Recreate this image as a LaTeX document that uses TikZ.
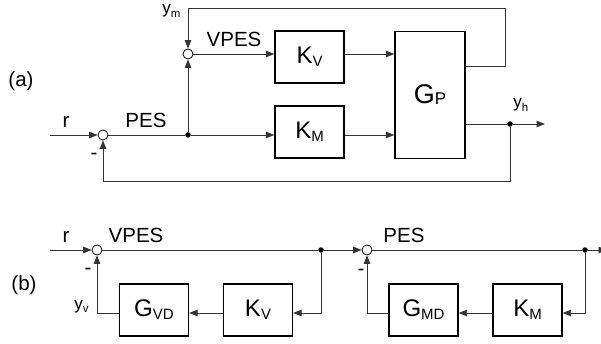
\documentclass[tikz,border=0pt]{standalone}
\usepackage{fontspec}
\setmainfont{Liberation Sans}
\usetikzlibrary{arrows.meta}
\newcommand{\boxsub}[1]{\raisebox{-3pt}{\fontsize{15}{15}\selectfont #1}}
\newcommand{\labsub}[1]{\raisebox{-3.5pt}{\fontsize{11.5}{11.5}\selectfont #1}}
\begin{document}
\begin{tikzpicture}[x=1pt,y=-1pt,
  line width=0.9pt,
  conn/.style={draw=black!80},
  arr/.style={conn,-{Triangle[length=8.5pt,width=6.5pt]}},
  blk/.style={draw=black,line width=1.3pt,minimum width=69pt,minimum height=52pt,inner sep=0pt,font=\fontsize{24}{24}\selectfont},
  sumj/.style={circle,draw=black,line width=0.8pt,minimum size=10pt,inner sep=0pt,fill=white},
  dotj/.style={circle,fill=black,minimum size=5.5pt,inner sep=0pt},
  lab/.style={inner sep=0pt,font=\fontsize{20.5}{20.5}\selectfont},
  ylab/.style={inner sep=0pt,font=\fontsize{17}{17}\selectfont,anchor=base west}
]
\useasboundingbox (0,0) rectangle (601,344);

% ---------- (a) ----------
\coordinate (rin) at (50,135);
\node[sumj] (s1) at (103,135) {};
\node[dotj] (d1) at (188,135) {};
\node[sumj] (s2) at (188,54) {};
\node[blk] (kv) at (309.5,57) {K\boxsub{V}};
\node[blk] (km) at (309.5,132) {K\boxsub{M}};
\node[blk,minimum width=70pt,minimum height=126.5pt,font=\fontsize{27}{27}\selectfont] (gp) at (430,95) {G\raisebox{-1pt}{\fontsize{17}{17}\selectfont P}};
\node[dotj] (d2) at (510,124) {};
\coordinate (yout) at (545,124);
\coordinate (ymc) at (505,8);

\draw[arr] (rin) -- (s1);
\draw[conn] (s1) -- (d1);
\draw[arr] (d1) -- (s2);
\draw[arr] (d1) -- (d1 -| km.west);
\draw[arr] (s2) -- (s2 -| kv.west);
\draw[arr] (kv.east |- s2) -- (gp.west |- s2);
\draw[arr] (km.east |- d1) -- (gp.west |- d1);
\draw[conn] (gp.east |- d2) -- (d2);
\draw[arr] (d2) -- (yout);
\draw[arr] (d2) -- (d2 |- 0,181) -| (s1);
\draw[arr] (gp.east |- 0,66) -| (ymc) -| (s2);

\node[lab,anchor=base] (ra) at (66,128) {r};
\node[lab,anchor=base] (pesa) at (146,128) {PES};
\node[lab,anchor=base] (vpesa) at (234,47) {VPES};
\node[ylab] (ym) at (162,14) {y\labsub{m}};
\node[ylab] (yh) at (513,108) {y\labsub{h}};
\node[lab] (ma) at (94,156) {-};
\node[lab] (la) at (21,81) {(a)};

% ---------- (b) ----------
\coordinate (rin2) at (50,250);
\node[sumj] (s3) at (97,250) {};
\node[dotj] (d3) at (321,250) {};
\node[sumj] (s4) at (367,250) {};
\node[dotj] (d4) at (585,250) {};
\coordinate (out2) at (607,250);
\node[blk] (gvd) at (154,310) {G\boxsub{VD}};
\node[blk] (kv2) at (258,310) {K\boxsub{V}};
\node[blk] (gmd) at (423.5,310) {G\boxsub{MD}};
\node[blk] (km2) at (527.5,310) {K\boxsub{M}};

\draw[arr] (rin2) -- (s3);
\draw[conn] (s3) -- (d3);
\draw[arr] (d3) -- (s4);
\draw[conn] (s4) -- (d4);
\draw[arr] (d4) -- (out2);
\draw[arr] (d3) |- (kv2.east |- 0,313);
\draw[arr] (kv2.west |- 0,313) -- (gvd.east |- 0,313);
\draw[arr] (gvd.west |- 0,313) -| (s3);
\draw[arr] (d4) |- (km2.east |- 0,313);
\draw[arr] (km2.west |- 0,313) -- (gmd.east |- 0,313);
\draw[arr] (gmd.west |- 0,313) -| (s4);

\node[lab,anchor=base] (rb) at (66,243) {r};
\node[lab,anchor=base] (vpesb) at (136,243) {VPES};
\node[lab,anchor=base] (pesb) at (404,243) {PES};
\node[ylab] (yv) at (74,309) {y\labsub{v}};
\node[lab] (mb1) at (88,271) {-};
\node[lab] (mb2) at (361,272) {-};
\node[lab] (lb) at (24,285) {(b)};
\end{tikzpicture}
\end{document}
